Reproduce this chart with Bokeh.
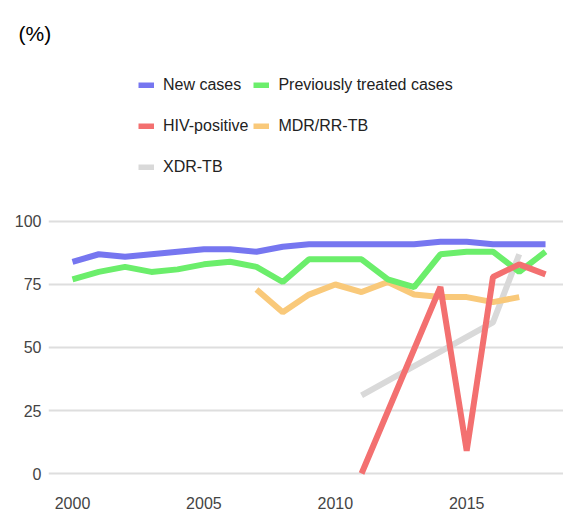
from bokeh.plotting import figure
from bokeh.models import Range1d, FixedTicker, Legend, LegendItem, Title
from bokeh.embed import file_html
from bokeh.resources import INLINE

# ---- data ----
years_new = [2000, 2001, 2002, 2003, 2004, 2005, 2006, 2007, 2008, 2009,
             2010, 2011, 2012, 2013, 2014, 2015, 2016, 2017, 2018]
new_cases = [84, 87, 86, 87, 88, 89, 89, 88, 90, 91,
             91, 91, 91, 91, 92, 92, 91, 91, 91]
years_prev = years_new
prev_treated = [77, 80, 82, 80, 81, 83, 84, 82, 76, 85,
                85, 85, 77, 74, 87, 88, 88, 80, 88]
years_hiv = [2011, 2014, 2015, 2016, 2017, 2018]
hiv_pos = [0, 74, 9, 78, 83, 79]
years_mdr = [2007, 2008, 2009, 2010, 2011, 2012, 2013, 2014, 2015, 2016, 2017]
mdr_rr = [73, 64, 71, 75, 72, 76, 71, 70, 70, 68, 70]
years_xdr = [2011, 2016, 2017]
xdr_tb = [31, 60, 87]

y_ticks = [0, 25, 50, 75, 100]
x_ticks = [2000, 2005, 2010, 2015]

FONT = "Liberation Sans"

p = figure(width=563, height=516, output_backend="svg", toolbar_location=None,
           x_range=Range1d(1999.087, 2018.684), y_range=Range1d(-4.76, 169.44),
           min_border_left=48, min_border_right=0, min_border_top=46,
           min_border_bottom=31)
p.title = Title(text="(%)", align="left", offset=-30, text_font=FONT,
                text_font_size="21px", text_font_style="normal",
                text_color="#000000", standoff=4)
p.outline_line_color = None
p.background_fill_color = "white"
p.xgrid.visible = False
p.ygrid.grid_line_color = "#dedede"
p.ygrid.grid_line_width = 2

for ax in (p.xaxis, p.yaxis):
    ax.axis_line_color = None
    ax.major_tick_line_color = None
    ax.minor_tick_line_color = None
    ax.major_tick_out = 0
    ax.major_tick_in = 0
    ax.major_label_text_font = FONT
    ax.major_label_text_font_size = "16px"
    ax.major_label_text_color = "#444444"
p.yaxis.ticker = FixedTicker(ticks=y_ticks)
p.xaxis.ticker = FixedTicker(ticks=x_ticks)
p.yaxis.major_label_standoff = 7
p.xaxis.major_label_standoff = 11

lw = 6
r_xdr = p.line(years_xdr, xdr_tb, line_color="#d9d9d9", line_width=lw)
r_mdr = p.line(years_mdr, mdr_rr, line_color="#f9c97a", line_width=lw)
r_new = p.line(years_new, new_cases, line_color="#7676f0", line_width=lw)
r_prev = p.line(years_prev, prev_treated, line_color="#6bee6b", line_width=lw)
r_hiv = p.line(years_hiv, hiv_pos, line_color="#f37070", line_width=lw)

legend = Legend(items=[
    LegendItem(label="New cases", renderers=[r_new]),
    LegendItem(label="Previously treated cases", renderers=[r_prev]),
    LegendItem(label="HIV-positive", renderers=[r_hiv]),
    LegendItem(label="MDR/RR-TB", renderers=[r_mdr]),
    LegendItem(label="XDR-TB", renderers=[r_xdr]),
], orientation="horizontal", ncols=2, location=(90, 300))
legend.border_line_alpha = 0
legend.background_fill_alpha = 0
legend.padding = 0
legend.margin = 0
legend.spacing = 5
legend.glyph_width = 16
legend.glyph_height = 6
legend.label_standoff = 9
legend.label_height = 36
legend.label_text_font = FONT
legend.label_text_font_size = "16px"
legend.label_text_color = "#222222"
p.add_layout(legend, "center")

open("out.html", "w").write(file_html(p, INLINE))
